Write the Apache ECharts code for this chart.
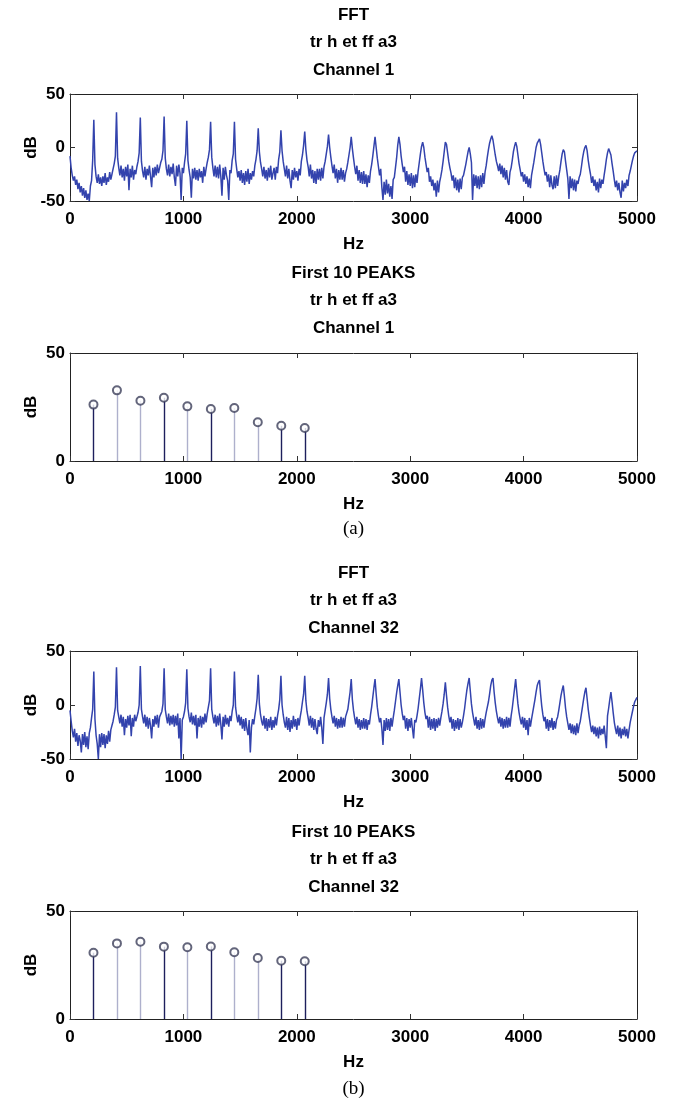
<!DOCTYPE html>
<html><head><meta charset="utf-8">
<script src="https://cdn.jsdelivr.net/npm/echarts@6/dist/echarts.min.js"></script>
<style>html,body{margin:0;padding:0;background:#fff}#c{width:685px;height:1104px}</style>
</head><body><div id="c"></div>
<script>
// ---------- data ----------
const freqStepHz = 10;               // spacing of FFT samples (0 .. 5000 Hz)
const xTickLabels = [0, 1000, 2000, 3000, 4000, 5000];
const fftTickLabels = [-50, 0, 50];
const peakTickLabels = [0, 50];

const ch1Fft = [
-8,-19,-26,-31,-27,-35,-30,-39,-33,-42,
-36,-45,-38,-47,-40,-49,-43,-50,-36,-31,
-12,26,-16,-27,-33,-25,-34,-28,-36,-27,
-33,-24,-35,-28,-32,-23,-30,-25,-20,-15,
-8,33,-10,-19,-26,-17,-28,-20,-31,-18,
-27,-16,-40,-20,-28,-17,-30,-21,-25,-18,
-13,-5,28,-13,-22,-28,-18,-30,-20,-26,
-17,-27,-37,-19,-28,-18,-26,-16,-24,-19,
-14,-11,-3,29,-10,-20,-26,-16,-27,-18,
-25,-15,-28,-36,-17,-27,-16,-24,-49,-19,
-24,-14,-6,25,-12,-21,-28,-47,-20,-29,
-19,-30,-21,-31,-20,-28,-22,-33,-18,-27,
-20,-14,-9,-2,24,-9,-19,-27,-17,-28,
-18,-29,-16,-27,-45,-19,-30,-18,-26,-31,
-49,-21,-24,-12,-6,24,-11,-20,-28,-22,
-31,-21,-33,-24,-35,-22,-32,-20,-34,-24,
-30,-22,-27,-17,-11,-3,18,-4,-14,-20,
-27,-18,-29,-21,-31,-19,-28,-17,-30,-24,
-19,-30,-18,-24,-11,-4,16,-3,-13,-20,
-27,-17,-29,-20,-31,-38,-21,-30,-19,-28,
-22,-31,-20,-26,-13,-7,2,15,-2,-12,
-18,-27,-16,-29,-21,-33,-22,-34,-20,-30,
-20,-31,-19,-29,-18,-13,-6,1,12,0,
-9,-17,-24,-16,-29,-20,-33,-21,-30,-19,
-30,-21,-32,-24,-20,-14,-7,0,10,-1,
-10,-18,-25,-17,-31,-21,-33,-23,-34,-22,
-34,-25,-37,-26,-33,-22,-16,-8,1,10,
0,-10,-18,-26,-20,-37,-49,-32,-44,-30,
-43,-34,-46,-36,-48,-30,-28,-19,-10,2,
10,3,-8,-16,-23,-18,-32,-22,-35,-25,
-36,-24,-38,-26,-37,-25,-33,-22,-14,-6,
1,5,0,-9,-16,-23,-19,-32,-27,-36,
-30,-40,-33,-46,-31,-42,-32,-27,-21,-13,
-4,5,3,-5,-13,-19,-24,-31,-26,-38,
-28,-40,-30,-42,-29,-39,-28,-26,-21,-16,
-10,-4,0,-6,-14,-49,-25,-36,-26,-38,
-27,-39,-26,-37,-24,-34,-23,-17,-9,-2,
4,8,11,7,0,-7,-13,-17,-22,-15,
-25,-17,-28,-19,-30,-21,-32,-35,-23,-19,
-12,-4,1,5,1,-7,-15,-21,-27,-23,
-32,-25,-34,-27,-37,-29,-38,-26,-20,-14,
-7,0,4,6,8,3,-5,-13,-20,-26,
-23,-32,-25,-37,-26,-35,-39,-27,-38,-26,
-36,-27,-21,-13,-6,-2,-4,-13,-21,-29,
-48,-27,-38,-29,-40,-30,-41,-31,-34,-28,
-25,-18,-10,-4,0,2,-3,-12,-19,-25,
-33,-27,-36,-30,-40,-32,-42,-29,-38,-30,
-34,-26,-19,-11,-5,-1,0,-7,-15,-22,
-30,-37,-31,-40,-33,-42,-47,-31,-41,-33,
-38,-30,-36,-26,-22,-17,-12,-8,-5,-4,
-3
];

const ch32Fft = [
-5,-15,-24,-30,-22,-34,-26,-38,-28,-33,
-44,-27,-37,-25,-39,-29,-41,-26,-21,-12,
-4,31,-13,-28,-36,-50,-27,-39,-26,-37,
-27,-40,-28,-36,-24,-34,-23,-19,-15,-9,
-2,35,-5,-11,-17,-9,-20,-11,-28,-13,
-21,-10,-19,-9,-29,-12,-20,-9,-15,-11,
-7,0,36,-4,-11,-17,-9,-20,-11,-22,
-12,-19,-31,-13,-20,-10,-18,-9,-21,-11,
-10,-6,1,34,-4,-11,-17,-8,-19,-10,
-18,-9,-20,-10,-19,-8,-31,-12,-50,-14,
-11,-6,2,33,-3,-11,-16,-7,-18,-10,
-19,-9,-31,-12,-20,-10,-21,-11,-18,-8,
-16,-8,-2,4,34,-4,-11,-17,-9,-20,
-10,-19,-8,-18,-32,-11,-20,-9,-18,-12,
-20,-10,-15,-6,0,31,-2,-10,-16,-9,
-19,-11,-22,-13,-24,-12,-22,-28,-14,-44,
-21,-13,-18,-10,-3,6,28,1,-9,-15,
-19,-10,-22,-12,-24,-13,-21,-11,-23,-14,
-21,-11,-19,-10,-4,5,27,0,-9,-16,
-21,-11,-23,-12,-25,-14,-22,-10,-20,-13,
-23,-12,-19,-11,-5,3,10,27,4,-6,
-12,-19,-10,-21,-12,-23,-13,-22,-27,-14,
-20,-11,-21,-36,-12,-5,2,10,25,6,
-4,-11,-17,-10,-20,-12,-22,-13,-21,-11,
-21,-12,-20,-11,-10,-4,4,12,24,5,
-5,-12,-18,-11,-21,-13,-23,-14,-22,-12,
-22,-13,-23,-14,-18,-9,-2,7,16,24,
10,-2,-10,-16,-12,-22,-37,-14,-24,-12,
-23,-13,-24,-12,-20,-12,-5,3,11,18,
24,12,0,-8,-14,-10,-22,-12,-24,-13,
-21,-12,-22,-31,-14,-16,-10,-3,6,15,
25,14,2,-7,-13,-10,-21,-11,-23,-13,
-22,-12,-24,-13,-21,-12,-19,-12,-6,1,
10,21,9,-2,-10,-16,-11,-22,-13,-24,
-14,-22,-12,-23,-13,-21,-16,-10,-3,6,
14,20,25,13,1,-7,-13,-19,-11,-22,
-14,-23,-12,-22,-13,-21,-13,-7,-2,3,
10,18,23,25,12,2,-6,-12,-17,-11,
-20,-12,-22,-13,-21,-11,-21,-12,-20,-10,
-3,6,15,24,12,1,-7,-13,-18,-11,
-21,-12,-23,-14,-28,-12,-20,-13,-7,-1,
5,12,18,21,23,10,-1,-9,-15,-11,
-22,-13,-24,-14,-21,-12,-23,-15,-22,-14,
-11,-5,2,9,14,18,8,-3,-11,-17,
-23,-17,-26,-18,-27,-19,-28,-17,-26,-19,
-15,-8,-1,6,12,16,6,-4,-12,-19,
-25,-19,-27,-20,-29,-21,-31,-20,-28,-22,
-27,-19,-29,-40,-10,-3,5,12,3,-7,
-16,-22,-27,-19,-29,-21,-31,-22,-28,-20,
-29,-22,-31,-23,-16,-11,-6,-1,3,5,
7
];

const peakHz = [207, 414, 621, 828, 1035, 1242, 1449, 1656, 1863, 2070];
const ch1PeakDb = [26.1, 32.7, 27.9, 29.3, 25.3, 24.1, 24.5, 17.9, 16.3, 15.3];
const ch32PeakDb = [30.7, 35.0, 35.8, 33.5, 33.2, 33.6, 30.9, 28.2, 27.0, 26.7];

// ---------- styles ----------
const stemShade = ['#1d1f5c','#aeb0cc','#aeb0cc','#1d1f5c','#aeb0cc','#1d1f5c','#aeb0cc','#aeb0cc','#1d1f5c','#1d1f5c'];
const FONT = '"Liberation Sans", Arial, Helvetica, sans-serif';
const lineColor = '#3343ad';

const panels = [
  {top: 94,  height: 107, kind: 'fft',  fft: ch1Fft,  titles: ['FFT', 'tr h et ff a3', 'Channel 1'], titleY: 15},
  {top: 353, height: 108, kind: 'peak', peaks: ch1PeakDb, titles: ['First 10 PEAKS', 'tr h et ff a3', 'Channel 1'], titleY: 273},
  {top: 651, height: 108, kind: 'fft',  fft: ch32Fft, titles: ['FFT', 'tr h et ff a3', 'Channel 32'], titleY: 573},
  {top: 911, height: 108, kind: 'peak', peaks: ch32PeakDb, titles: ['First 10 PEAKS', 'tr h et ff a3', 'Channel 32'], titleY: 832}
];

const GL = 70, GW = 567;
const grid = [], xAxis = [], yAxis = [], series = [], graphic = [];
const axisLine = {show: true, onZero: false, lineStyle: {color: '#222', width: 1}};
const tick = {show: true, inside: true, length: 5, lineStyle: {color: '#333', width: 1}};
const lbl = {color: '#000', fontFamily: FONT, fontWeight: 'bold', fontSize: 17};
const plain = v => String(v);

panels.forEach((p, i) => {
  grid.push({left: GL, width: GW, top: p.top, height: p.height, show: false});
  const xMin = xTickLabels[0], xMax = xTickLabels[xTickLabels.length - 1];
  const xInt = xTickLabels[1] - xTickLabels[0];
  xAxis.push({
    gridIndex: i, type: 'value', position: 'bottom', min: xMin, max: xMax, interval: xInt,
    axisLine, axisTick: tick, splitLine: {show: false},
    axisLabel: Object.assign({margin: 10, formatter: plain}, lbl),
    name: 'Hz', nameLocation: 'middle', nameGap: 35, nameMoveOverlap: false, nameTextStyle: lbl
  });
  xAxis.push({
    gridIndex: i, type: 'value', position: 'top', min: xMin, max: xMax, interval: xInt,
    axisLine, axisTick: tick, splitLine: {show: false}, axisLabel: {show: false}
  });
  const yt = p.kind === 'fft' ? fftTickLabels : peakTickLabels;
  const yMin = yt[0], yMax = yt[yt.length - 1], yInt = yt[1] - yt[0];
  yAxis.push({
    gridIndex: i, type: 'value', position: 'left', min: yMin, max: yMax, interval: yInt,
    axisLine, axisTick: tick, splitLine: {show: false},
    axisLabel: Object.assign({margin: 5, formatter: plain}, lbl),
    name: 'dB', nameLocation: 'middle', nameGap: 30, nameMoveOverlap: false, nameTextStyle: lbl
  });
  yAxis.push({
    gridIndex: i, type: 'value', position: 'right', min: yMin, max: yMax, interval: yInt,
    axisLine, axisTick: tick, splitLine: {show: false}, axisLabel: {show: false}
  });

  if (p.kind === 'fft') {
    series.push({
      type: 'line', xAxisIndex: 2 * i, yAxisIndex: 2 * i,
      data: p.fft.map((v, k) => [k * freqStepHz, v]),
      showSymbol: false, symbol: 'none',
      lineStyle: {color: lineColor, width: 1.5}, clip: true, z: 2
    });
  } else {
    const d = peakHz.map((f, k) => [f, p.peaks[k], k]);
    series.push({
      type: 'custom', xAxisIndex: 2 * i, yAxisIndex: 2 * i, data: d, z: 2,
      renderItem: (params, api) => {
        const a = api.coord([api.value(0), 0]);
        const b = api.coord([api.value(0), api.value(1)]);
        const x = Math.round(a[0]) + 0.5;
        return {type: 'line', shape: {x1: x, y1: a[1], x2: x, y2: b[1]},
                style: {stroke: stemShade[api.value(2)], lineWidth: 1.4}};
      }
    });
    series.push({
      type: 'scatter', xAxisIndex: 2 * i, yAxisIndex: 2 * i, data: d, z: 3,
      symbol: 'emptyCircle', symbolSize: 8,
      itemStyle: {color: '#3c3f5a', borderColor: '#3c3f5a', borderWidth: 1}
    });
  }

  p.titles.forEach((t, k) => {
    graphic.push({type: 'text', x: GL + GW / 2, y: p.titleY + k * 27.5,
      style: {text: t, fill: '#000', font: 'bold 17px ' + FONT, align: 'center', verticalAlign: 'middle'}});
  });
});

graphic.push({type: 'text', x: GL + GW / 2, y: 529,
  style: {text: '(a)', fill: '#000', font: '19px "Liberation Serif", "Times New Roman", serif', align: 'center', verticalAlign: 'middle'}});
graphic.push({type: 'text', x: GL + GW / 2, y: 1089,
  style: {text: '(b)', fill: '#000', font: '19px "Liberation Serif", "Times New Roman", serif', align: 'center', verticalAlign: 'middle'}});

const chart = echarts.init(document.getElementById('c'), null, {renderer: 'canvas'});
chart.setOption({animation: false, backgroundColor: '#fff', grid, xAxis, yAxis, series, graphic});
</script>
</body></html>
